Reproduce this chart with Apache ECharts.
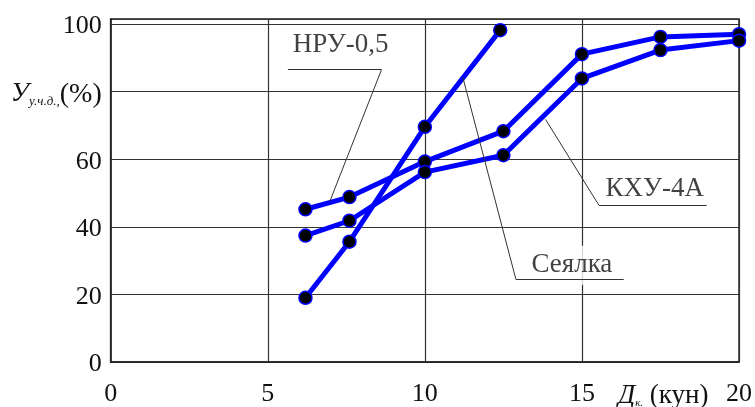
<!DOCTYPE html>
<html>
<head>
<meta charset="utf-8">
<script src="https://cdn.jsdelivr.net/npm/echarts@6/dist/echarts.min.js"></script>
<style>
  html, body { margin: 0; padding: 0; background: #fff; }
  #chart { width: 755px; height: 407px; }
</style>
</head>
<body>
<div id="chart"></div>
<script>
// данные
const days = [6.2, 7.6, 10, 12.5, 15, 17.5, 20]
const nru = [45.2, 48.8, 59.3, 68.3, 91.1, 96.2, 97.0]
const khu = [37.4, 41.8, 56.2, 61.2, 83.9, 92.3, 95.1]
const seyalkaDays = [6.2, 7.6, 10, 12.4]
const seyalka = [19.0, 35.6, 69.6, 98.2]
const xTicks = [0, 5, 10, 15, 20]
const yTicks = [0, 20, 40, 60, 80, 100]

// подписи и выноски (в координатах данных)
const notes = [
  { text: "НРУ-0,5", at: [7.32, 93.9], leader: [[5.64, 86.5], [8.62, 86.5], [6.97, 47.4]] },
  { text: "Сеялка", at: [14.68, 28.6], leader: [[11.21, 84.2], [12.9, 24.4], [16.33, 24.4]], bg: true },
  { text: "КХУ-4А", at: [17.32, 51.3], leader: [[13.84, 71.8], [15.54, 46.4], [18.97, 46.4]] }
]

const font = "Liberation Serif"
const chart = echarts.init(document.getElementById("chart"))

const toPairs = (xs, ys) => xs.map((x, i) => [x, ys[i]])

const curve = (name, data) => ({
  name,
  type: "line",
  data,
  z: 3,
  lineStyle: { color: "#0000ff", width: 5 },
  symbol: "circle",
  symbolSize: 13,
  itemStyle: { color: "#000", borderColor: "#0000ff", borderWidth: 1.5 }
})

const leaderSegments = []
notes.forEach((n) => {
  for (let i = 0; i < n.leader.length - 1; i++) {
    leaderSegments.push([{ coord: n.leader[i] }, { coord: n.leader[i + 1] }])
  }
})

const option = {
  animation: false,
  backgroundColor: "#fff",
  textStyle: { fontFamily: font },
  grid: {
    left: 110.7,
    right: 12.3,
    top: 19,
    bottom: 42.3,
    show: true,
    borderColor: "#222",
    borderWidth: 1.5,
    backgroundColor: "transparent"
  },
  xAxis: {
    type: "value",
    min: 0,
    max: 20,
    interval: 5,
    axisLine: { lineStyle: { color: "#222", width: 1.5 } },
    axisTick: { show: false },
    splitLine: { show: true, lineStyle: { color: "#333", width: 1.2 } },
    axisLabel: {
      color: "#111",
      fontFamily: font,
      fontSize: 26,
      margin: 19,
      formatter: (v) => (xTicks.includes(v) ? String(v) : "")
    }
  },
  yAxis: {
    type: "value",
    min: 0,
    max: 101.5,
    interval: 20,
    axisLine: { lineStyle: { color: "#222", width: 1.5 } },
    axisTick: { show: false },
    splitLine: { show: true, lineStyle: { color: "#333", width: 1.2 } },
    axisLabel: {
      color: "#111",
      fontFamily: font,
      fontSize: 26,
      margin: 9,
      padding: [5, 0, 0, 0],
      formatter: (v) => {
        if (v === 80) return "{u|У}{s|у.ч.д.,}{p|(%)}"
        return yTicks.includes(v) ? String(v) : ""
      },
      rich: {
        u: { fontFamily: font, fontSize: 27, fontStyle: "italic", color: "#111" },
        s: { fontFamily: font, fontSize: 13, fontStyle: "italic", color: "#111", verticalAlign: "bottom" },
        p: { fontFamily: font, fontSize: 28, color: "#111" }
      }
    }
  },
  graphic: [
    {
      type: "text",
      left: 618,
      top: 382,
      style: {
        text: "{d|Д}{k|к.}{n| (кун)}",
        rich: {
          d: { fontFamily: font, fontSize: 27, fontStyle: "italic", fill: "#111" },
          k: { fontFamily: font, fontSize: 11, fontStyle: "italic", fill: "#111", verticalAlign: "bottom" },
          n: { fontFamily: font, fontSize: 27, fill: "#111" }
        }
      }
    }
  ],
  series: [
    {
      name: "leaders",
      type: "line",
      data: [],
      z: 1,
      silent: true,
      markLine: {
        silent: true,
        symbol: "none",
        animation: false,
        label: { show: false },
        lineStyle: { color: "#333", width: 1, type: "solid" },
        data: leaderSegments
      }
    },
    curve("НРУ-0,5", toPairs(days, nru)),
    curve("КХУ-4А", toPairs(days, khu)),
    curve("Сеялка", toPairs(seyalkaDays, seyalka)),
    {
      name: "notes",
      type: "scatter",
      z: 4,
      silent: true,
      symbolSize: 1,
      itemStyle: { color: "rgba(0,0,0,0)" },
      label: {
        show: true,
        position: "inside",
        fontFamily: font,
        fontSize: 27,
        color: "#111",
        formatter: (p) => p.data.name
      },
      data: notes.map((n) => ({
        name: n.text,
        value: n.at,
        label: n.bg ? { backgroundColor: "#fff", padding: [6, 2, 6, 2] } : {}
      }))
    }
  ]
}

chart.setOption(option)
</script>
</body>
</html>
